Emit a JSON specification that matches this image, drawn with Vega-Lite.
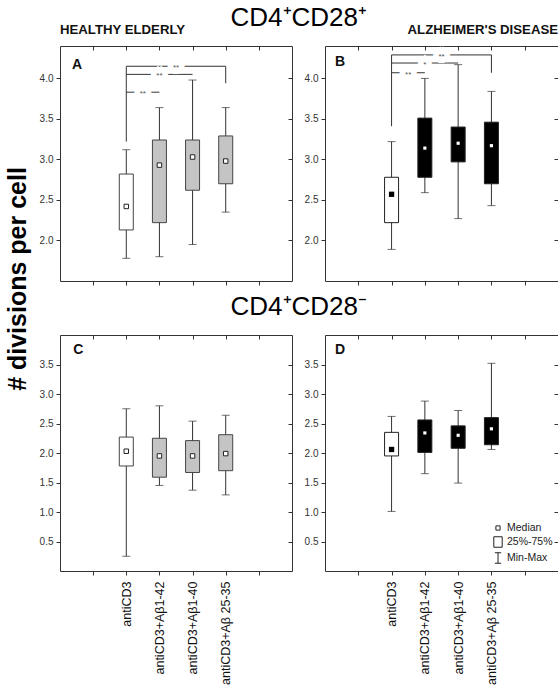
{
  "$schema": "https://vega.github.io/schema/vega-lite/v6.json",
  "background": "white",
  "padding": {"left": 5, "top": 4, "right": 4, "bottom": 4},
  "config": {
    "font": "Liberation Sans",
    "view": {"stroke": "#333", "strokeWidth": 1},
    "axis": {"grid": false, "domain": false, "labelFont": "Liberation Sans", "labelFontSize": 10, "labelColor": "#333", "tickColor": "#333", "tickSize": 4, "labelPadding": 3, "title": null},
    "title": {"font": "Liberation Sans", "color": "#000"}
  },
  "datasets": {
    "boxes": [
      {"panel": "A", "treatment": "antiCD3", "pos": 1, "min": 1.78, "q1": 2.13, "median": 2.42, "q3": 2.82, "max": 3.12},
      {"panel": "A", "treatment": "antiCD3+Aβ1-42", "pos": 2, "min": 1.80, "q1": 2.22, "median": 2.93, "q3": 3.24, "max": 3.64},
      {"panel": "A", "treatment": "antiCD3+Aβ1-40", "pos": 3, "min": 1.95, "q1": 2.62, "median": 3.03, "q3": 3.24, "max": 3.98},
      {"panel": "A", "treatment": "antiCD3+Aβ 25-35", "pos": 4, "min": 2.35, "q1": 2.70, "median": 2.98, "q3": 3.29, "max": 3.64},
      {"panel": "B", "treatment": "antiCD3", "pos": 1, "min": 1.89, "q1": 2.22, "median": 2.57, "q3": 2.78, "max": 3.22},
      {"panel": "B", "treatment": "antiCD3+Aβ1-42", "pos": 2, "min": 2.59, "q1": 2.78, "median": 3.14, "q3": 3.51, "max": 4.00},
      {"panel": "B", "treatment": "antiCD3+Aβ1-40", "pos": 3, "min": 2.27, "q1": 2.97, "median": 3.20, "q3": 3.40, "max": 4.17},
      {"panel": "B", "treatment": "antiCD3+Aβ 25-35", "pos": 4, "min": 2.43, "q1": 2.70, "median": 3.17, "q3": 3.46, "max": 3.84},
      {"panel": "C", "treatment": "antiCD3", "pos": 1, "min": 0.25, "q1": 1.78, "median": 2.03, "q3": 2.27, "max": 2.75},
      {"panel": "C", "treatment": "antiCD3+Aβ1-42", "pos": 2, "min": 1.45, "q1": 1.59, "median": 1.95, "q3": 2.25, "max": 2.80},
      {"panel": "C", "treatment": "antiCD3+Aβ1-40", "pos": 3, "min": 1.37, "q1": 1.67, "median": 1.95, "q3": 2.21, "max": 2.54},
      {"panel": "C", "treatment": "antiCD3+Aβ 25-35", "pos": 4, "min": 1.29, "q1": 1.70, "median": 1.99, "q3": 2.31, "max": 2.64},
      {"panel": "D", "treatment": "antiCD3", "pos": 1, "min": 1.01, "q1": 1.95, "median": 2.06, "q3": 2.35, "max": 2.62},
      {"panel": "D", "treatment": "antiCD3+Aβ1-42", "pos": 2, "min": 1.65, "q1": 2.01, "median": 2.34, "q3": 2.56, "max": 2.88},
      {"panel": "D", "treatment": "antiCD3+Aβ1-40", "pos": 3, "min": 1.49, "q1": 2.08, "median": 2.30, "q3": 2.46, "max": 2.72},
      {"panel": "D", "treatment": "antiCD3+Aβ 25-35", "pos": 4, "min": 2.06, "q1": 2.14, "median": 2.41, "q3": 2.60, "max": 3.52}
    ],
    "hlines": [
      {"panel": "A", "from": 1, "to": 4, "mid": 2.5, "y": 4.15, "label": "**"},
      {"panel": "A", "from": 1, "to": 3, "mid": 2.0, "y": 4.05, "label": "**"},
      {"panel": "A", "from": 1, "to": 2, "mid": 1.5, "y": 3.83, "label": "**"},
      {"panel": "B", "from": 1, "to": 4, "mid": 2.5, "y": 4.29, "label": "**"},
      {"panel": "B", "from": 1, "to": 3, "mid": 2.0, "y": 4.19, "label": "*"},
      {"panel": "B", "from": 1, "to": 2, "mid": 1.5, "y": 4.07, "label": "**"}
    ],
    "vlines": [
      {"panel": "A", "x": 1, "y1": 3.22, "y2": 4.15},
      {"panel": "A", "x": 4, "y1": 3.94, "y2": 4.15},
      {"panel": "B", "x": 1, "y1": 3.41, "y2": 4.29},
      {"panel": "B", "x": 4, "y1": 4.07, "y2": 4.29}
    ],
    "legend": [
      {"item": "Median"},
      {"item": "25%-75%"},
      {"item": "Min-Max"}
    ]
  },
  "spacing": 6,
  "resolve": {"scale": {"shape": "independent"}, "legend": {"shape": "independent"}},
  "hconcat": [
    {
      "width": 22, "height": 466,
      "view": {"stroke": null},
      "data": {"values": [{"t": "# divisions per cell"}]},
      "mark": {"type": "text", "angle": 270, "fontSize": 25, "fontWeight": "bold", "color": "#000", "align": "center", "baseline": "middle"},
      "encoding": {"text": {"field": "t"}}
    },
    {
      "spacing": 8,
      "resolve": {"scale": {"shape": "independent"}, "legend": {"shape": "independent"}},
      "vconcat": [
        {
          "title": {"text": "CD4⁺CD28⁺", "fontSize": 26, "fontWeight": "normal", "anchor": "middle", "offset": -8},
          "spacing": 10,
          "hconcat": [
            {
              "width": 232, "height": 235,
              "title": {"text": "HEALTHY ELDERLY", "anchor": "start", "frame": "group", "fontSize": 13.2, "fontWeight": "bold", "color": "#111", "offset": 8},
              "resolve": {"axis": {"x": "independent", "y": "independent"}},
              "layer": [
                {"data": {"name": "boxes"}, "transform": [{"filter": "datum.panel === 'A'"}],
                 "mark": {"type": "rule", "color": "#333"},
                 "encoding": {
                   "x": {"field": "pos", "type": "quantitative", "scale": {"domain": [-1, 6], "padding": 0, "nice": false, "zero": false}, "axis": {"values": [0, 1, 2, 3, 4, 5], "labels": false}},
                   "y": {"field": "min", "type": "quantitative", "scale": {"domain": [1.5, 4.4], "padding": 0, "nice": false, "zero": false}, "axis": {"values": [2, 2.5, 3, 3.5, 4], "format": ".1f"}},
                   "y2": {"field": "max"}}},
                {"data": {"name": "boxes"}, "transform": [{"filter": "datum.panel === 'A'"}],
                 "mark": {"type": "tick", "orient": "horizontal", "size": 8, "thickness": 1, "color": "#333"},
                 "encoding": {"x": {"field": "pos", "type": "quantitative", "axis": null}, "y": {"field": "min", "type": "quantitative", "axis": null}}},
                {"data": {"name": "boxes"}, "transform": [{"filter": "datum.panel === 'A'"}],
                 "mark": {"type": "tick", "orient": "horizontal", "size": 8, "thickness": 1, "color": "#333"},
                 "encoding": {"x": {"field": "pos", "type": "quantitative", "axis": null}, "y": {"field": "max", "type": "quantitative", "axis": null}}},
                {"data": {"name": "boxes"}, "transform": [{"filter": "datum.panel === 'A'"}],
                 "mark": {"type": "bar", "size": 14, "stroke": "#444", "strokeWidth": 1},
                 "encoding": {
                   "x": {"field": "pos", "type": "quantitative", "axis": {"orient": "top", "values": [0, 1, 2, 3, 4, 5], "labels": false, "tickSize": -4}},
                   "y": {"field": "q1", "type": "quantitative", "axis": {"orient": "right", "values": [2, 2.5, 3, 3.5, 4], "labels": false, "tickSize": -4}},
                   "y2": {"field": "q3"},
                   "fill": {"condition": {"test": "datum.pos === 1", "value": "white"}, "value": "#c4c4c4"}}},
                {"data": {"name": "boxes"}, "transform": [{"filter": "datum.panel === 'A'"}],
                 "mark": {"type": "point", "shape": "square", "filled": true, "size": 20, "fill": "white", "stroke": "#222", "strokeWidth": 1, "opacity": 1},
                 "encoding": {"x": {"field": "pos", "type": "quantitative", "axis": null}, "y": {"field": "median", "type": "quantitative", "axis": null}}},
                {"data": {"name": "hlines"}, "transform": [{"filter": "datum.panel === 'A'"}],
                 "mark": {"type": "rule", "color": "#333"},
                 "encoding": {"x": {"field": "from", "type": "quantitative", "axis": null}, "x2": {"field": "to"}, "y": {"field": "y", "type": "quantitative", "axis": null}}},
                {"data": {"name": "vlines"}, "transform": [{"filter": "datum.panel === 'A'"}],
                 "mark": {"type": "rule", "color": "#333"},
                 "encoding": {"x": {"field": "x", "type": "quantitative", "axis": null}, "y": {"field": "y1", "type": "quantitative", "axis": null}, "y2": {"field": "y2"}}},
                {"data": {"name": "hlines"}, "transform": [{"filter": "datum.panel === 'A'"}],
                 "mark": {"type": "text", "fontSize": 8, "baseline": "middle", "dy": 2, "fill": "white", "stroke": "white", "strokeWidth": 10},
                 "encoding": {"x": {"field": "mid", "type": "quantitative", "axis": null}, "y": {"field": "y", "type": "quantitative", "axis": null}, "text": {"field": "label"}}},
                {"data": {"name": "hlines"}, "transform": [{"filter": "datum.panel === 'A'"}],
                 "mark": {"type": "text", "fontSize": 8, "baseline": "middle", "dy": 2, "color": "#555"},
                 "encoding": {"x": {"field": "mid", "type": "quantitative", "axis": null}, "y": {"field": "y", "type": "quantitative", "axis": null}, "text": {"field": "label"}}},
                {"data": {"values": [{"letter": "A"}]},
                 "mark": {"type": "text", "fontSize": 14, "fontWeight": "bold", "align": "left", "baseline": "middle", "color": "#111"},
                 "encoding": {"x": {"datum": -0.64, "type": "quantitative", "axis": null}, "y": {"datum": 4.17, "type": "quantitative", "axis": null}, "text": {"field": "letter"}}}
              ]
            },
            {
              "width": 233, "height": 235,
              "title": {"text": "ALZHEIMER'S DISEASE", "anchor": "end", "frame": "group", "fontSize": 13.2, "fontWeight": "bold", "color": "#111", "offset": 8},
              "resolve": {"axis": {"x": "independent", "y": "independent"}},
              "layer": [
                {"data": {"name": "boxes"}, "transform": [{"filter": "datum.panel === 'B'"}],
                 "mark": {"type": "rule", "color": "#333"},
                 "encoding": {
                   "x": {"field": "pos", "type": "quantitative", "scale": {"domain": [-1, 6], "padding": 0, "nice": false, "zero": false}, "axis": {"values": [0, 1, 2, 3, 4, 5], "labels": false}},
                   "y": {"field": "min", "type": "quantitative", "scale": {"domain": [1.5, 4.4], "padding": 0, "nice": false, "zero": false}, "axis": {"values": [2, 2.5, 3, 3.5, 4], "format": ".1f"}},
                   "y2": {"field": "max"}}},
                {"data": {"name": "boxes"}, "transform": [{"filter": "datum.panel === 'B'"}],
                 "mark": {"type": "tick", "orient": "horizontal", "size": 8, "thickness": 1, "color": "#333"},
                 "encoding": {"x": {"field": "pos", "type": "quantitative", "axis": null}, "y": {"field": "min", "type": "quantitative", "axis": null}}},
                {"data": {"name": "boxes"}, "transform": [{"filter": "datum.panel === 'B'"}],
                 "mark": {"type": "tick", "orient": "horizontal", "size": 8, "thickness": 1, "color": "#333"},
                 "encoding": {"x": {"field": "pos", "type": "quantitative", "axis": null}, "y": {"field": "max", "type": "quantitative", "axis": null}}},
                {"data": {"name": "boxes"}, "transform": [{"filter": "datum.panel === 'B'"}],
                 "mark": {"type": "bar", "size": 14, "stroke": "#222", "strokeWidth": 1},
                 "encoding": {
                   "x": {"field": "pos", "type": "quantitative", "axis": {"orient": "top", "values": [0, 1, 2, 3, 4, 5], "labels": false, "tickSize": -4}},
                   "y": {"field": "q1", "type": "quantitative", "axis": {"orient": "right", "values": [2, 2.5, 3, 3.5, 4], "labels": false, "tickSize": -4}},
                   "y2": {"field": "q3"},
                   "fill": {"condition": {"test": "datum.pos === 1", "value": "white"}, "value": "black"}}},
                {"data": {"name": "boxes"}, "transform": [{"filter": "datum.panel === 'B'"}],
                 "mark": {"type": "point", "shape": "square", "filled": true, "opacity": 1},
                 "encoding": {"x": {"field": "pos", "type": "quantitative", "axis": null}, "y": {"field": "median", "type": "quantitative", "axis": null},
                   "fill": {"condition": {"test": "datum.pos === 1", "value": "black"}, "value": "white"},
                   "size": {"condition": {"test": "datum.pos === 1", "value": 28}, "value": 10}}},
                {"data": {"name": "hlines"}, "transform": [{"filter": "datum.panel === 'B'"}],
                 "mark": {"type": "rule", "color": "#333"},
                 "encoding": {"x": {"field": "from", "type": "quantitative", "axis": null}, "x2": {"field": "to"}, "y": {"field": "y", "type": "quantitative", "axis": null}}},
                {"data": {"name": "vlines"}, "transform": [{"filter": "datum.panel === 'B'"}],
                 "mark": {"type": "rule", "color": "#333"},
                 "encoding": {"x": {"field": "x", "type": "quantitative", "axis": null}, "y": {"field": "y1", "type": "quantitative", "axis": null}, "y2": {"field": "y2"}}},
                {"data": {"name": "hlines"}, "transform": [{"filter": "datum.panel === 'B'"}],
                 "mark": {"type": "text", "fontSize": 8, "baseline": "middle", "dy": 2, "fill": "white", "stroke": "white", "strokeWidth": 10},
                 "encoding": {"x": {"field": "mid", "type": "quantitative", "axis": null}, "y": {"field": "y", "type": "quantitative", "axis": null}, "text": {"field": "label"}}},
                {"data": {"name": "hlines"}, "transform": [{"filter": "datum.panel === 'B'"}],
                 "mark": {"type": "text", "fontSize": 8, "baseline": "middle", "dy": 2, "color": "#555"},
                 "encoding": {"x": {"field": "mid", "type": "quantitative", "axis": null}, "y": {"field": "y", "type": "quantitative", "axis": null}, "text": {"field": "label"}}},
                {"data": {"values": [{"letter": "B"}]},
                 "mark": {"type": "text", "fontSize": 14, "fontWeight": "bold", "align": "left", "baseline": "middle", "color": "#111"},
                 "encoding": {"x": {"datum": -0.7, "type": "quantitative", "axis": null}, "y": {"datum": 4.2, "type": "quantitative", "axis": null}, "text": {"field": "letter"}}}
              ]
            }
          ]
        },
        {
          "title": {"text": "CD4⁺CD28⁻", "fontSize": 26, "fontWeight": "normal", "anchor": "middle", "offset": 14},
          "spacing": 10,
          "resolve": {"scale": {"shape": "independent"}, "legend": {"shape": "independent"}},
          "hconcat": [
            {
              "width": 232, "height": 236,
              "resolve": {"axis": {"x": "independent", "y": "independent"}},
              "layer": [
                {"data": {"name": "boxes"}, "transform": [{"filter": "datum.panel === 'C'"}],
                 "mark": {"type": "rule", "color": "#333"},
                 "encoding": {
                   "x": {"field": "pos", "type": "quantitative", "scale": {"domain": [-1, 6], "padding": 0, "nice": false, "zero": false}, "axis": {"values": [0, 1, 2, 3, 4, 5], "labelAngle": 270, "labelFontSize": 12.5, "labelColor": "#111", "labelPadding": 6, "labelExpr": "['', 'antiCD3', 'antiCD3+Aβ1-42', 'antiCD3+Aβ1-40', 'antiCD3+Aβ 25-35', ''][datum.value]"}},
                   "y": {"field": "min", "type": "quantitative", "scale": {"domain": [0, 4.0], "padding": 0, "nice": false, "zero": false}, "axis": {"values": [0.5, 1, 1.5, 2, 2.5, 3, 3.5], "format": ".1f"}},
                   "y2": {"field": "max"}}},
                {"data": {"name": "boxes"}, "transform": [{"filter": "datum.panel === 'C'"}],
                 "mark": {"type": "tick", "orient": "horizontal", "size": 8, "thickness": 1, "color": "#333"},
                 "encoding": {"x": {"field": "pos", "type": "quantitative", "axis": null}, "y": {"field": "min", "type": "quantitative", "axis": null}}},
                {"data": {"name": "boxes"}, "transform": [{"filter": "datum.panel === 'C'"}],
                 "mark": {"type": "tick", "orient": "horizontal", "size": 8, "thickness": 1, "color": "#333"},
                 "encoding": {"x": {"field": "pos", "type": "quantitative", "axis": null}, "y": {"field": "max", "type": "quantitative", "axis": null}}},
                {"data": {"name": "boxes"}, "transform": [{"filter": "datum.panel === 'C'"}],
                 "mark": {"type": "bar", "size": 14, "stroke": "#444", "strokeWidth": 1},
                 "encoding": {
                   "x": {"field": "pos", "type": "quantitative", "axis": {"orient": "top", "values": [0, 1, 2, 3, 4, 5], "labels": false, "tickSize": -4}},
                   "y": {"field": "q1", "type": "quantitative", "axis": {"orient": "right", "values": [0.5, 1, 1.5, 2, 2.5, 3, 3.5], "labels": false, "tickSize": -4}},
                   "y2": {"field": "q3"},
                   "fill": {"condition": {"test": "datum.pos === 1", "value": "white"}, "value": "#c4c4c4"}}},
                {"data": {"name": "boxes"}, "transform": [{"filter": "datum.panel === 'C'"}],
                 "mark": {"type": "point", "shape": "square", "filled": true, "size": 20, "fill": "white", "stroke": "#222", "strokeWidth": 1, "opacity": 1},
                 "encoding": {"x": {"field": "pos", "type": "quantitative", "axis": null}, "y": {"field": "median", "type": "quantitative", "axis": null}}},
                {"data": {"values": [{"letter": "C"}]},
                 "mark": {"type": "text", "fontSize": 14, "fontWeight": "bold", "align": "left", "baseline": "middle", "color": "#111"},
                 "encoding": {"x": {"datum": -0.6, "type": "quantitative", "axis": null}, "y": {"datum": 3.74, "type": "quantitative", "axis": null}, "text": {"field": "letter"}}}
              ]
            },
            {
              "width": 233, "height": 236,
              "resolve": {"axis": {"x": "independent", "y": "independent"}},
              "layer": [
                {"data": {"name": "boxes"}, "transform": [{"filter": "datum.panel === 'D'"}],
                 "mark": {"type": "rule", "color": "#333"},
                 "encoding": {
                   "x": {"field": "pos", "type": "quantitative", "scale": {"domain": [-1, 6], "padding": 0, "nice": false, "zero": false}, "axis": {"values": [0, 1, 2, 3, 4, 5], "labelAngle": 270, "labelFontSize": 12.5, "labelColor": "#111", "labelPadding": 6, "labelExpr": "['', 'antiCD3', 'antiCD3+Aβ1-42', 'antiCD3+Aβ1-40', 'antiCD3+Aβ 25-35', ''][datum.value]"}},
                   "y": {"field": "min", "type": "quantitative", "scale": {"domain": [0, 4.0], "padding": 0, "nice": false, "zero": false}, "axis": {"values": [0.5, 1, 1.5, 2, 2.5, 3, 3.5], "format": ".1f"}},
                   "y2": {"field": "max"}}},
                {"data": {"name": "boxes"}, "transform": [{"filter": "datum.panel === 'D'"}],
                 "mark": {"type": "tick", "orient": "horizontal", "size": 8, "thickness": 1, "color": "#333"},
                 "encoding": {"x": {"field": "pos", "type": "quantitative", "axis": null}, "y": {"field": "min", "type": "quantitative", "axis": null}}},
                {"data": {"name": "boxes"}, "transform": [{"filter": "datum.panel === 'D'"}],
                 "mark": {"type": "tick", "orient": "horizontal", "size": 8, "thickness": 1, "color": "#333"},
                 "encoding": {"x": {"field": "pos", "type": "quantitative", "axis": null}, "y": {"field": "max", "type": "quantitative", "axis": null}}},
                {"data": {"name": "boxes"}, "transform": [{"filter": "datum.panel === 'D'"}],
                 "mark": {"type": "bar", "size": 14, "stroke": "#222", "strokeWidth": 1},
                 "encoding": {
                   "x": {"field": "pos", "type": "quantitative", "axis": {"orient": "top", "values": [0, 1, 2, 3, 4, 5], "labels": false, "tickSize": -4}},
                   "y": {"field": "q1", "type": "quantitative", "axis": {"orient": "right", "values": [0.5, 1, 1.5, 2, 2.5, 3, 3.5], "labels": false, "tickSize": -4}},
                   "y2": {"field": "q3"},
                   "fill": {"condition": {"test": "datum.pos === 1", "value": "white"}, "value": "black"}}},
                {"data": {"name": "boxes"}, "transform": [{"filter": "datum.panel === 'D'"}],
                 "mark": {"type": "point", "shape": "square", "filled": true, "opacity": 1},
                 "encoding": {"x": {"field": "pos", "type": "quantitative", "axis": null}, "y": {"field": "median", "type": "quantitative", "axis": null},
                   "fill": {"condition": {"test": "datum.pos === 1", "value": "black"}, "value": "white"},
                   "size": {"condition": {"test": "datum.pos === 1", "value": 28}, "value": 10}}},
                {"data": {"values": [{"letter": "D"}]},
                 "mark": {"type": "text", "fontSize": 14, "fontWeight": "bold", "align": "left", "baseline": "middle", "color": "#111"},
                 "encoding": {"x": {"datum": -0.7, "type": "quantitative", "axis": null}, "y": {"datum": 3.75, "type": "quantitative", "axis": null}, "text": {"field": "letter"}}},
                {"data": {"name": "legend"},
                 "mark": {"type": "point", "opacity": 0},
                 "encoding": {
                   "shape": {"field": "item", "type": "nominal",
                     "scale": {"domain": ["Median", "25%-75%", "Min-Max"], "range": ["M-0.4,-0.4H0.4V0.4H-0.4Z", "M-0.8,-1H0.8V1H-0.8Z", "M-0.6,-1H0.6M0,-1V1M-0.6,1H0.6"]},
                     "legend": {"title": null, "orient": "bottom-right", "offset": 5, "padding": 0, "labelFontSize": 10.5, "labelColor": "#222", "labelOffset": 3, "rowPadding": 0, "symbolSize": 110, "symbolFillColor": "#f8f4ec", "symbolStrokeColor": "#222", "symbolStrokeWidth": 1, "symbolOpacity": 1,
                       "encode": {"symbols": {"update": {"opacity": {"value": 1}, "fill": {"value": "#f8f4ec"}, "stroke": {"value": "#222"}}}}}}}}
              ]
            }
          ]
        }
      ]
    }
  ]
}
